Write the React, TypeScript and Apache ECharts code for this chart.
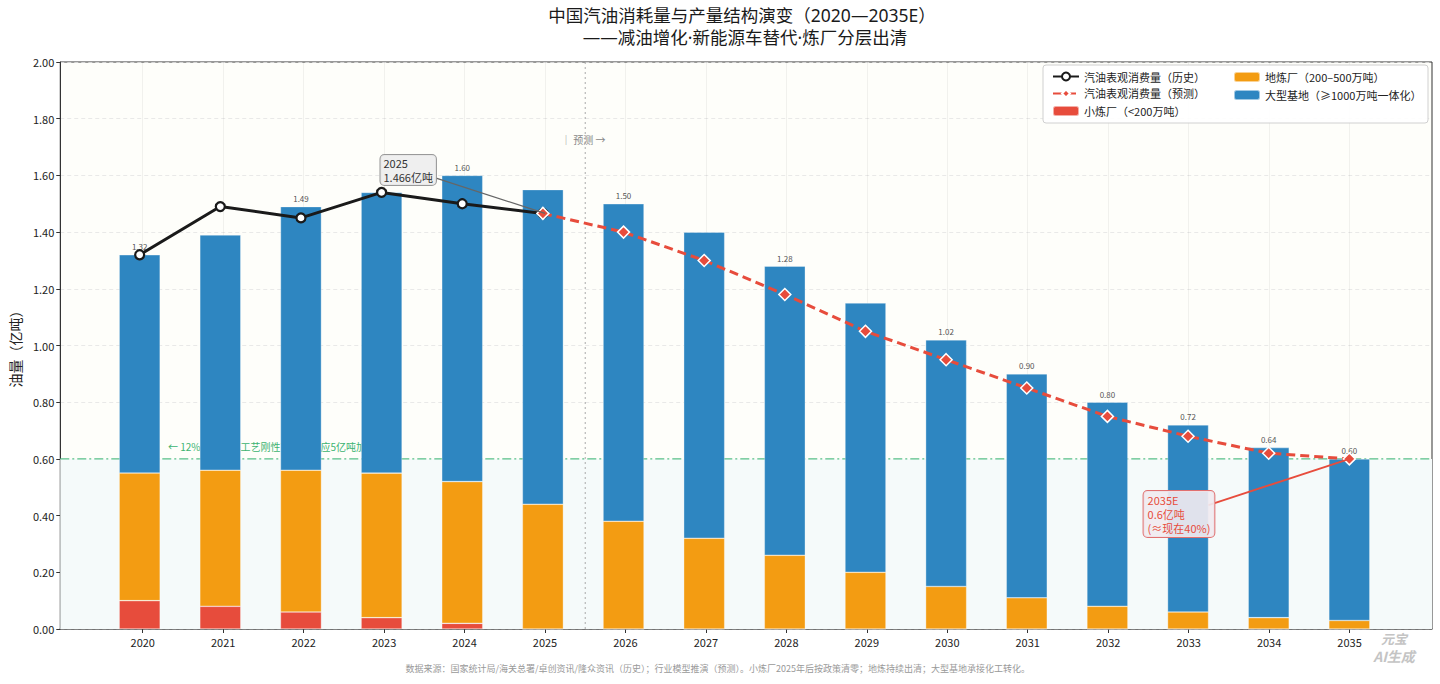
import React, { useEffect, useRef } from "react";
import * as echarts from "echarts";

const years = ["2020", "2021", "2022", "2023", "2024", "2025", "2026", "2027", "2028", "2029", "2030", "2031", "2032", "2033", "2034", "2035"];
const smallRefinery = [0.10, 0.08, 0.06, 0.04, 0.02, 0, 0, 0, 0, 0, 0, 0, 0, 0, 0, 0];
const localRefinery = [0.45, 0.48, 0.50, 0.51, 0.50, 0.44, 0.38, 0.32, 0.26, 0.20, 0.15, 0.11, 0.08, 0.06, 0.04, 0.03];
const largeBase = [0.77, 0.83, 0.93, 0.99, 1.08, 1.11, 1.12, 1.08, 1.02, 0.95, 0.87, 0.79, 0.72, 0.66, 0.60, 0.57];
const totalLabels = ["1.32", null, "1.49", null, "1.60", null, "1.50", null, "1.28", null, "1.02", "0.90", "0.80", "0.72", "0.64", "0.60"];
const historyValues = [1.32, 1.49, 1.45, 1.54, 1.50, 1.466, null, null, null, null, null, null, null, null, null, null];
const forecastValues = [null, null, null, null, null, 1.466, 1.40, 1.30, 1.18, 1.05, 0.95, 0.85, 0.75, 0.68, 0.62, 0.60];
const floorValue = 0.6;
const forecastSplit = 5.5;

const FONT = "'Noto Sans CJK SC', 'Noto Sans', sans-serif";
const TITLE_FONT = "'Noto Sans', 'Noto Sans CJK SC', sans-serif";
const X_MIN = -1.025;
const X_MAX = 16.025;
const G_LEFT = 57;
const G_RIGHT = 8;
const G_TOP = 62;
const G_BOTTOM = 55;
const W = 1440;

export default function App() {
  const ref = useRef<HTMLDivElement>(null);
  useEffect(() => {
    if (!ref.current) return;
    const chart = echarts.init(ref.current, undefined, { renderer: "svg" });
    const idx = years.map((_, i) => i);
    const unit = (W - G_LEFT - G_RIGHT) / (X_MAX - X_MIN);
    const innerLeft = G_LEFT + (-0.5 - X_MIN) * unit;
    const innerRight = G_RIGHT + (X_MAX - (years.length - 0.5)) * unit;

    const barCommon = {
      type: "bar",
      stack: "prod",
      barWidth: 41,
      z: 2,
      xAxisIndex: 1,
      yAxisIndex: 1,
    };
    const border = { borderColor: "rgba(255,255,255,0.55)", borderWidth: 0.6 };
    const titleStyle = { fontSize: 17.5, fontWeight: "normal", color: "#1a1a1a", fontFamily: TITLE_FONT, lineHeight: 20 };
    const option: any = {
      animation: false,
      backgroundColor: "#ffffff",
      textStyle: { fontFamily: FONT },
      title: [
        {
          text: "中国汽油消耗量与产量结构演变（2020—2035E）",
          left: 742,
          textAlign: "center",
          top: 5,
          padding: 0,
          textStyle: titleStyle,
        },
        {
          text: "——减油增化·新能源车替代·炼厂分层出清",
          left: 745,
          textAlign: "center",
          top: 27,
          padding: 0,
          textStyle: titleStyle,
        },
      ],
      grid: [
        {
          left: G_LEFT,
          right: G_RIGHT,
          top: G_TOP,
          bottom: G_BOTTOM,
          show: true,
          backgroundColor: "#fefefa",
          borderColor: "#333",
          borderWidth: 1,
        },
        {
          left: innerLeft,
          right: innerRight,
          top: G_TOP,
          bottom: G_BOTTOM,
          show: false,
        },
      ],
      legend: [
        {
          orient: "vertical",
          left: 1047,
          top: 66,
          itemWidth: 26,
          itemHeight: 10,
          itemGap: 6,
          z: 6,
          textStyle: { fontSize: 11, color: "#222", fontFamily: FONT },
          data: ["汽油表观消费量（历史）", "汽油表观消费量（预测）", "小炼厂（<200万吨）"],
        },
        {
          orient: "vertical",
          left: 1228,
          top: 66,
          itemWidth: 26,
          itemHeight: 10,
          itemGap: 6,
          z: 6,
          textStyle: { fontSize: 11, color: "#222", fontFamily: FONT },
          data: ["地炼厂（200–500万吨）", "大型基地（≥1000万吨一体化）"],
        },
      ],
      xAxis: [
        {
          type: "value",
          gridIndex: 0,
          min: X_MIN,
          max: X_MAX,
          axisLine: { show: true, onZero: false, lineStyle: { color: "#666", width: 1.5 } },
          axisTick: { show: true, length: 4, lineStyle: { color: "#333" }, customValues: idx },
          axisLabel: {
            customValues: idx,
            fontSize: 11,
            color: "#222",
            margin: 7,
            fontFamily: FONT,
            formatter: (v: number) => years[Math.round(v)] ?? "",
          },
          splitLine: { show: true, lineStyle: { color: "rgba(0,0,0,0.05)", width: 1 } },
        },
        {
          type: "category",
          gridIndex: 1,
          data: years,
          boundaryGap: true,
          show: false,
        },
      ],
      yAxis: [
        {
          type: "value",
          gridIndex: 0,
          min: 0,
          max: 2,
          interval: 0.2,
          name: "油量（亿吨）",
          nameLocation: "middle",
          nameGap: 38,
          nameRotate: 90,
          nameTextStyle: { fontSize: 14, color: "#222", fontFamily: FONT },
          axisLine: { show: true, onZero: false, lineStyle: { color: "#333" } },
          axisTick: { show: true, length: 4, lineStyle: { color: "#333" } },
          axisLabel: {
            fontSize: 11,
            color: "#222",
            margin: 6,
            fontFamily: FONT,
            formatter: (v: number) => v.toFixed(2),
          },
          splitLine: { show: true, lineStyle: { color: "#e3e3e3", type: [4, 3], width: 0.8 } },
        },
        {
          type: "value",
          gridIndex: 1,
          min: 0,
          max: 2,
          interval: 0.2,
          show: false,
          splitLine: { show: false },
        },
      ],
      series: [
        {
          name: "floor",
          type: "line",
          xAxisIndex: 0,
          yAxisIndex: 0,
          z: 1,
          silent: true,
          symbol: "none",
          data: [[X_MIN, floorValue], [X_MAX, floorValue]],
          lineStyle: { color: "#58c088", width: 1.4, type: [9, 3, 2, 3] },
          areaStyle: { color: "#f5fafa", opacity: 1 },
        },
        {
          name: "split",
          type: "line",
          xAxisIndex: 0,
          yAxisIndex: 0,
          z: 1,
          silent: true,
          symbol: "none",
          data: [[forecastSplit, 0], [forecastSplit, 2]],
          lineStyle: { color: "#aaaaaa", width: 1, type: [2, 3] },
        },
        {
          ...barCommon,
          name: "小炼厂（<200万吨）",
          itemStyle: { ...border, color: "#e74c3c" },
          data: smallRefinery,
        },
        {
          ...barCommon,
          name: "地炼厂（200–500万吨）",
          itemStyle: { ...border, color: "#f39c12" },
          data: localRefinery,
        },
        {
          ...barCommon,
          name: "大型基地（≥1000万吨一体化）",
          itemStyle: { ...border, color: "#2e86c1" },
          data: largeBase.map((v, i) => ({
            value: v,
            label: {
              show: totalLabels[i] != null,
              position: "top",
              distance: 4,
              fontSize: 8,
              color: "#555",
              fontFamily: FONT,
              formatter: () => totalLabels[i] ?? "",
            },
          })),
        },
        {
          name: "汽油表观消费量（历史）",
          type: "line",
          xAxisIndex: 1,
          yAxisIndex: 1,
          z: 4,
          data: historyValues,
          symbol: "circle",
          symbolSize: 9,
          lineStyle: { color: "#1a1a1a", width: 3 },
          itemStyle: { color: "#ffffff", borderColor: "#1a1a1a", borderWidth: 2.2 },
        },
        {
          name: "汽油表观消费量（预测）",
          type: "line",
          xAxisIndex: 1,
          yAxisIndex: 1,
          z: 5,
          data: forecastValues,
          symbol: "diamond",
          symbolSize: 12,
          lineStyle: { color: "#e74c3c", width: 3, type: [9, 5] },
          itemStyle: { color: "#e74c3c", borderColor: "#ffffff", borderWidth: 1.5 },
        },
      ],
    };
    chart.setOption(option);

    const px = (x: number, y: number) => chart.convertToPixel({ xAxisIndex: 0, yAxisIndex: 0 }, [x, y]) as number[];
    const box1 = px(2.955, 1.672);
    const a1s = px(3.637, 1.591);
    const a1e = px(5, 1.466);
    const box2 = px(12.44, 0.487);
    const a2s = px(13.247, 0.437);
    const a2e = px(15, 0.6);
    const floorTxt = px(0.314, 0.642);
    const fcTxt = px(5.2, 1.728);

    chart.setOption({
      graphic: [
        {
          type: "rect",
          z: 3,
          shape: { x: 1043, y: 65, width: 385, height: 58, r: 3 },
          style: { fill: "rgba(255,255,255,0.9)", stroke: "#d0d0d0", lineWidth: 1 },
        },
        {
          type: "text",
          z: 1.5,
          x: floorTxt[0],
          y: floorTxt[1],
          style: {
            text: "← 12%汽油收率工艺刚性下限（对应5亿吨加工量）",
            fill: "#3cb371",
            font: `10px ${FONT}`,
            verticalAlign: "middle",
          },
        },
        {
          type: "text",
          z: 6,
          x: fcTxt[0],
          y: fcTxt[1],
          style: { text: "│ 预测 →", fill: "#888", font: `10px ${FONT}`, verticalAlign: "middle" },
        },
        {
          type: "line",
          z: 6,
          shape: { x1: a1s[0], y1: a1s[1], x2: a1e[0], y2: a1e[1] },
          style: { stroke: "#666", lineWidth: 1.3 },
        },
        {
          type: "text",
          z: 7,
          x: box1[0],
          y: box1[1],
          style: {
            text: "2025\n1.466亿吨",
            fill: "#333",
            font: `11px ${FONT}`,
            lineHeight: 14,
            backgroundColor: "rgba(238,238,238,0.92)",
            borderColor: "#999",
            borderWidth: 1,
            borderRadius: 4,
            padding: [1, 3, 1, 3],
          },
        },
        {
          type: "line",
          z: 6,
          shape: { x1: a2s[0], y1: a2s[1], x2: a2e[0], y2: a2e[1] },
          style: { stroke: "#e74c3c", lineWidth: 1.8 },
        },
        {
          type: "text",
          z: 7,
          x: box2[0],
          y: box2[1],
          style: {
            text: "2035E\n0.6亿吨\n(≈现在40%)",
            fill: "#e74c3c",
            font: `11px ${FONT}`,
            lineHeight: 14,
            backgroundColor: "rgba(240,234,240,0.92)",
            borderColor: "#e07070",
            borderWidth: 1,
            borderRadius: 4,
            padding: [2, 4, 2, 4],
          },
        },
        {
          type: "text",
          z: 10,
          left: "center",
          top: 664,
          style: {
            text: "数据来源：国家统计局/海关总署/卓创资讯/隆众资讯（历史）；行业模型推演（预测）。小炼厂2025年后按政策清零；地炼持续出清；大型基地承接化工转化。",
            fill: "#999",
            font: `9px ${FONT}`,
          },
        },
        {
          type: "text",
          z: 10,
          x: 1394,
          y: 631,
          style: {
            text: "元宝",
            fill: "#c4c4c4",
            font: `italic bold 13px ${FONT}`,
            lineHeight: 14,
            align: "center",
          },
        },
        {
          type: "text",
          z: 10,
          x: 1394,
          y: 649,
          style: {
            text: "AI生成",
            fill: "#c4c4c4",
            font: `italic bold 14px ${FONT}`,
            lineHeight: 14,
            align: "center",
          },
        },
      ],
    });

    return () => chart.dispose();
  }, []);
  return <div ref={ref} style={{ position: "fixed", left: 0, top: 0, width: 1440, height: 684 }} />;
}
